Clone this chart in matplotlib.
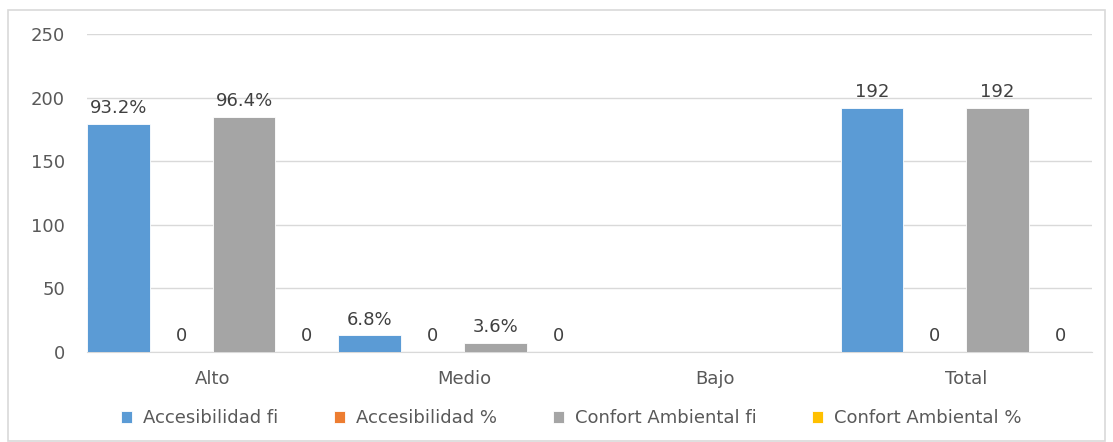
import numpy as np
import matplotlib.pyplot as plt
from matplotlib.patches import Rectangle

# datos de la tabla de frecuencias
categorias = ['Alto', 'Medio', 'Bajo', 'Total']
series = ['Accesibilidad fi', 'Accesibilidad %', 'Confort Ambiental fi', 'Confort Ambiental %']
acces_fi = [179, 13, np.nan, 192]
acces_pct = [0, 0, np.nan, 0]
confort_fi = [185, 7, np.nan, 192]
confort_pct = [0, 0, np.nan, 0]
# etiquetas de datos tal como aparecen sobre cada barra
etiq_acces_fi = ['93.2%', '6.8%', '', '192']
etiq_acces_pct = ['0', '0', '', '0']
etiq_confort_fi = ['96.4%', '3.6%', '', '192']
etiq_confort_pct = ['0', '0', '', '0']

colores = ['#5B9BD5', '#ED7D31', '#A5A5A5', '#FFC000']
texto = '#595959'

plt.rcParams['font.family'] = ['DejaVu Sans']

fig = plt.figure(figsize=(11.13, 4.42), dpi=100)
ax = fig.add_axes([0.0782, 0.2036, 0.9028, 0.7194])

# borde gris alrededor de todo el grafico
fig.patches.append(Rectangle((8 / 1113, 1 / 442), 1097 / 1113, 431 / 442,
                             transform=fig.transFigure, fill=False,
                             edgecolor='#d9d9d9', lw=1.2))

x = np.arange(len(categorias))
ancho = 0.25
datos = [acces_fi, acces_pct, confort_fi, confort_pct]
etiquetas = [etiq_acces_fi, etiq_acces_pct, etiq_confort_fi, etiq_confort_pct]

for i, (vals, etq) in enumerate(zip(datos, etiquetas)):
    pos = x + (i - 1.5) * ancho
    ax.bar(pos, vals, ancho, color=colores[i], label=series[i],
           edgecolor='white', linewidth=0.6, zorder=3)
    for p, v, t in zip(pos, vals, etq):
        if t == '':
            continue
        ax.annotate(t, (p, v), xytext=(0, 5), textcoords='offset points',
                    ha='center', va='bottom', fontsize=13, color='#404040')

ax.set_xlim(-0.5, 3.5)
ax.set_ylim(0, 250)
ax.set_yticks([0, 50, 100, 150, 200, 250])
ax.set_xticks(x)
ax.set_xticklabels(categorias)
ax.tick_params(axis='both', length=0, colors=texto)
ax.tick_params(axis='y', pad=16, labelsize=13)
ax.tick_params(axis='x', pad=13, labelsize=13)
ax.grid(axis='y', color='#d9d9d9', lw=1, zorder=0)
for s in ['top', 'right', 'left']:
    ax.spines[s].set_visible(False)
ax.spines['bottom'].set_color('#d9d9d9')

ax.legend(loc='center', bbox_to_anchor=(0.482, -0.208), ncol=4,
          frameon=False, fontsize=13, labelcolor=texto,
          handlelength=0.6, handleheight=0.6, handletextpad=0.6,
          columnspacing=3.1)

fig.savefig('out.png', dpi=100)
